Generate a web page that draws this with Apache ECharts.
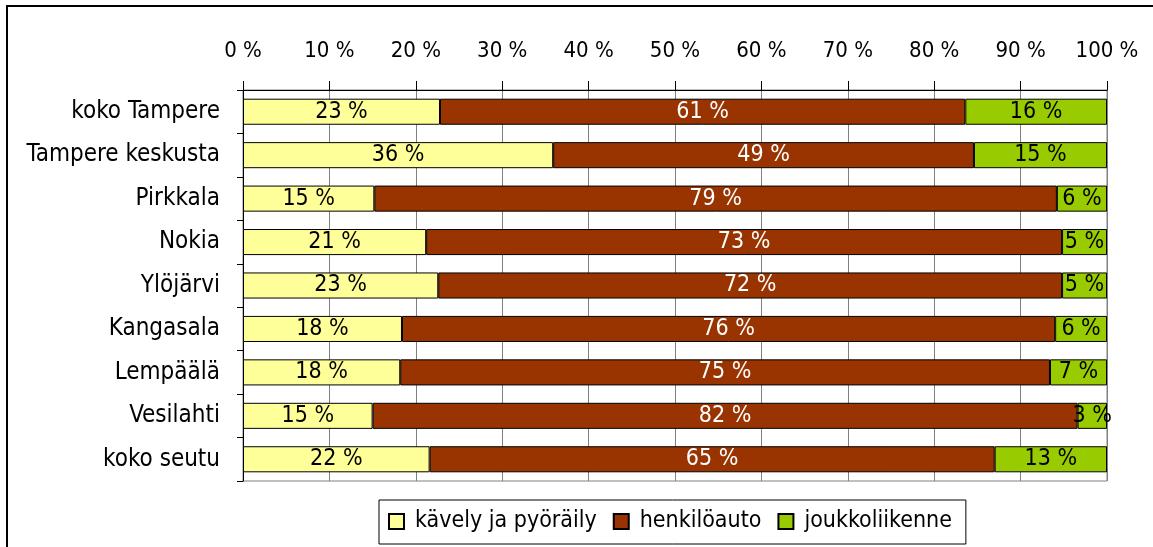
<!DOCTYPE html>
<html>
<head>
    <meta charset="utf-8" />
    <title>Kulkutapajakauma</title>
    <script src="https://cdn.jsdelivr.net/npm/echarts@6/dist/echarts.min.js"></script>
    <style>
        html, body { margin: 0; padding: 0; background: #fff; overflow: hidden; }
        #container { width: 1153px; height: 547px; }
    </style>
</head>
<body>
    <div id="container"></div>
<script>
    // alueet ylhäältä alas
    var categories = ['koko Tampere', 'Tampere keskusta', 'Pirkkala', 'Nokia', 'Ylöjärvi', 'Kangasala', 'Lempäälä', 'Vesilahti', 'koko seutu'];
    // osuudet (%) luettu palkkien pituuksista
    var walkBike = [22.8, 35.9, 15.2, 21.2, 22.6, 18.4, 18.2, 15.0, 21.6];
    var car = [60.8, 48.7, 79.0, 73.6, 72.2, 75.6, 75.2, 81.6, 65.4];
    var transit = [16.4, 15.4, 5.8, 5.2, 5.2, 6.0, 6.6, 3.4, 13.0];
    // palkkien tekstit
    var walkBikeLbl = [23, 36, 15, 21, 23, 18, 18, 15, 22];
    var carLbl = [61, 49, 79, 73, 72, 76, 75, 82, 65];
    var transitLbl = [16, 15, 6, 5, 5, 6, 7, 3, 13];

    var FONT = '"DejaVu Sans Condensed", "Liberation Sans Narrow", sans-serif';

    function bar(name, data, lbl, color, textColor) {
        return {
            name: name,
            type: 'bar',
            stack: 'all',
            barCategoryGap: '40%',
            data: data,
            itemStyle: { color: color, borderColor: '#000', borderWidth: 1 },
            label: {
                show: true,
                position: 'inside',
                color: textColor,
                fontFamily: FONT,
                fontSize: 23,
                formatter: function (p) { return lbl[p.dataIndex] + ' %'; }
            },
            emphasis: { disabled: true }
        };
    }

    var myChart = echarts.init(document.getElementById('container'));
    var option = {
        backgroundColor: '#fff',
        animation: false,
        textStyle: { fontFamily: FONT },
        graphic: [{
            type: 'rect',
            shape: { x: 7, y: 6, width: 1400, height: 800 },
            style: { fill: 'none', stroke: '#000', lineWidth: 2 },
            silent: true
        }],
        grid: {
            left: 243, right: 46, top: 90, bottom: 66,
            show: true, borderColor: '#808080', borderWidth: 1
        },
        legend: {
            left: 379, top: 500,
            padding: [10, 14, 11, 9],
            borderColor: '#000', borderWidth: 1,
            itemWidth: 15, itemHeight: 15, itemGap: 16,
            icon: 'rect',
            textStyle: { fontFamily: FONT, fontSize: 23, color: '#000', padding: [0, 0, 0, 6] },
            data: ['kävely ja pyöräily', 'henkilöauto', 'joukkoliikenne']
        },
        xAxis: {
            type: 'value',
            position: 'top',
            min: 0, max: 100, interval: 10,
            axisLine: { show: true, lineStyle: { color: '#000', width: 1 } },
            axisTick: { show: true, inside: false, length: 9, lineStyle: { color: '#000' } },
            axisLabel: { formatter: '{value} %', color: '#000', fontFamily: FONT, fontSize: 22, margin: 28 },
            splitLine: { show: true, lineStyle: { color: '#808080', width: 1 } }
        },
        yAxis: {
            type: 'category',
            inverse: true,
            data: categories,
            axisLine: { show: true, lineStyle: { color: '#000', width: 1 } },
            axisTick: { show: true, inside: false, length: 6, lineStyle: { color: '#000' } },
            axisLabel: { color: '#000', fontFamily: FONT, fontSize: 24, margin: 23 }
        },
        series: [
            bar('kävely ja pyöräily', walkBike, walkBikeLbl, '#FFFF99', '#000'),
            bar('henkilöauto', car, carLbl, '#993300', '#fff'),
            bar('joukkoliikenne', transit, transitLbl, '#99CC00', '#000')
        ]
    };
    myChart.setOption(option);
</script>
</body>
</html>
